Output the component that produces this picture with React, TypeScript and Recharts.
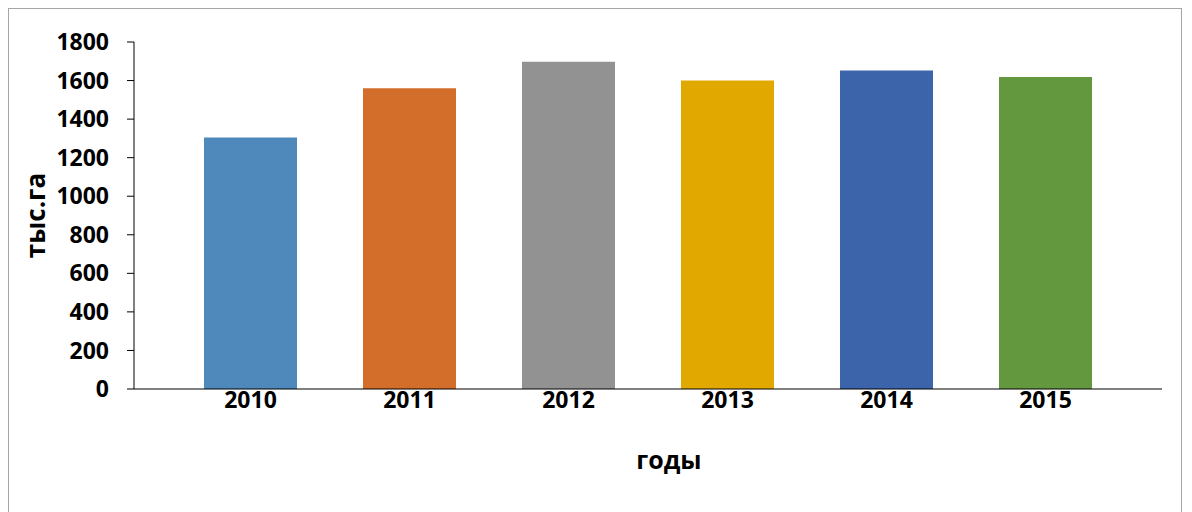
import { BarChart, Bar, XAxis, YAxis, Cell } from "recharts";

const YEARS = ["2010", "2011", "2012", "2013", "2014", "2015"];
const AREA = [1305, 1560, 1697, 1600, 1652, 1618];
const BAR_COLORS = ["#4f88bb", "#d36e2a", "#929292", "#e1a900", "#3b64aa", "#64983e"];
const Y_TICKS = [0, 200, 400, 600, 800, 1000, 1200, 1400, 1600, 1800];

const data = YEARS.map((year, i) => ({ year, value: AREA[i] }));

const FONT = "'Open Sans', sans-serif";
const tickStyle = { fontFamily: FONT, fontWeight: 700, fontSize: 23, fill: "#000" };

export default function App() {
  return (
    <div
      style={{
        width: 1172,
        height: 520,
        border: "1px solid #a6a6a6",
        borderBottom: "none",
        background: "#fff",
      }}
    >
      <BarChart
        width={1172}
        height={500}
        data={data}
        margin={{ top: 33, right: 19, left: 0, bottom: 0 }}
      >
        <YAxis
          width={125}
          domain={[0, 1800]}
          ticks={Y_TICKS}
          interval={0}
          tick={tickStyle}
          tickSize={7}
          tickMargin={18}
          axisLine={{ stroke: "#000" }}
          tickLine={{ stroke: "#000" }}
          label={{
            value: "тыс.га",
            angle: -90,
            position: "center",
            dx: -36,
            style: { fontFamily: FONT, fontWeight: 700, fontSize: 26, fill: "#000" },
          }}
        />
        <XAxis
          dataKey="year"
          height={120}
          padding={{ left: 37, right: 37 }}
          tick={tickStyle}
          tickLine={false}
          tickSize={3}
          tickMargin={0}
          axisLine={{ stroke: "#000" }}
          label={{
            value: "годы",
            position: "insideBottom",
            offset: 40,
            dx: 21,
            style: { fontFamily: FONT, fontWeight: 700, fontSize: 25, fill: "#000" },
          }}
        />
        <Bar dataKey="value" barSize={93} isAnimationActive={false}>
          {data.map((_, i) => (
            <Cell key={i} fill={BAR_COLORS[i % BAR_COLORS.length]} />
          ))}
        </Bar>
      </BarChart>
    </div>
  );
}
